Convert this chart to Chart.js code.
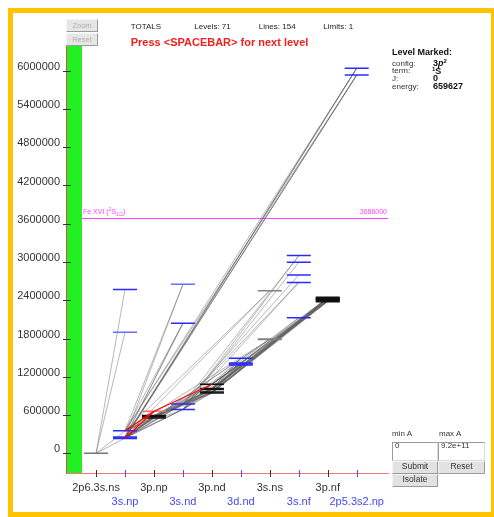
<!DOCTYPE html>
<html>
<head>
<meta charset="utf-8">
<script src="https://cdn.jsdelivr.net/npm/chart.js@4/dist/chart.umd.min.js"></script>
<style>
  html, body { margin: 0; padding: 0; background: #fff; width: 494px; height: 517px; overflow: hidden;
    font-family: "Liberation Sans", Arial, Helvetica, sans-serif; }
  #frame { position: absolute; left: 8px; top: 8px; width: 478px; height: 499px; border: 5px solid #ffc400; }
  #c { position: absolute; left: 0; top: 0; }
  .t { position: absolute; white-space: nowrap; line-height: 1; }
  .s8 { font-size: 8px; color: #333; }
  .b9 { font-size: 9px; font-weight: bold; color: #111; }
  .btn { position: absolute; box-sizing: border-box; height: 13px; text-align: center; font-size: 8.5px;
    line-height: 9px; color: #333; background: #e2e2e2; border: 1px solid; border-color: #f4f4f4 #9a9a9a #9a9a9a #f4f4f4; }
  .btn.off { color: #b0b0b0; background: #e6e6e6; font-size: 7.5px; line-height: 11px; }
  .box { position: absolute; box-sizing: border-box; height: 19px; background: #fff; border: 1px solid;
    border-color: #9a9a9a #dcdcdc #dcdcdc #9a9a9a; }
  sup.up { font-size: 6px; position: relative; top: -1px; vertical-align: top; }
</style>
</head>
<body>
<div id="frame"></div>
<canvas id="c" width="494" height="517"></canvas>

<div class="btn off" style="left:66px;top:19px;width:32px;">Zoom</div>
<div class="btn off" style="left:66px;top:33px;width:32px;">Reset</div>

<div class="t s8" style="left:130.7px;top:23.2px;color:#222;">TOTALS</div>
<div class="t s8" style="left:194.3px;top:23.2px;color:#222;">Levels: 71</div>
<div class="t s8" style="left:258.7px;top:23.2px;color:#222;">Lines: 154</div>
<div class="t s8" style="left:323.3px;top:23.2px;color:#222;">Limits: 1</div>
<div class="t" style="left:130.7px;top:37px;font-size:11px;font-weight:bold;color:#f02020;">Press &lt;SPACEBAR&gt; for next level</div>

<div class="t b9" style="left:392px;top:48.4px;">Level Marked:</div>
<div class="t s8" style="left:392px;top:59.7px;">config:</div>
<div class="t b9" style="left:433px;top:58.9px;">3<i>p</i><sup class="up">2</sup></div>
<div class="t s8" style="left:392px;top:67.3px;">term:</div>
<div class="t b9" style="left:432px;top:66.5px;"><sup class="up">1</sup>S</div>
<div class="t s8" style="left:392px;top:74.9px;">J:</div>
<div class="t b9" style="left:433px;top:74.1px;">0</div>
<div class="t s8" style="left:392px;top:82.5px;">energy:</div>
<div class="t b9" style="left:433px;top:81.7px;">659627</div>

<div class="t s8" style="left:392px;top:430.2px;">min A</div>
<div class="t s8" style="left:439px;top:430.2px;">max A</div>
<div class="box" style="left:392px;top:442px;width:46px;"></div>
<div class="box" style="left:438px;top:442px;width:47px;"></div>
<div class="t s8" style="left:395px;top:442.2px;">0</div>
<div class="t s8" style="left:441px;top:442.2px;">9.2e+11</div>
<div class="btn" style="left:392px;top:461px;width:46px;">Submit</div>
<div class="btn" style="left:438px;top:461px;width:47px;">Reset</div>
<div class="btn" style="left:392px;top:474px;width:46px;">Isolate</div>

<script>
// Configuration columns along the bottom axis
const columns = ['2p6.3s.ns', '3s.np', '3p.np', '3s.nd', '3p.nd', '3d.nd', '3s.ns', '3s.nf', '3p.nf', '2p5.3s2.np'];

// Energy axis ticks (cm-1)
const yTicks = [0, 600000, 1200000, 1800000, 2400000, 3000000, 3600000, 4200000, 4800000, 5400000, 6000000];

// Energy levels: column index and energy (cm-1)
const levelColumn = [0,
  1, 1, 1, 1, 1, 1,
  2, 2, 2, 2,
  3, 3, 3, 3,
  4, 4, 4, 4, 4,
  5, 5, 5, 5,
  6, 6,
  7, 7, 7, 7, 7,
  8, 8, 8, 8, 8,
  9, 9];
const levelEnergy = [0,
  233800, 239600, 253800, 351900, 1900000, 2570000,
  555000, 572000, 592000, 659627,
  688000, 774000, 2040000, 2650000,
  945000, 962000, 1000000, 1018000, 1082000,
  1384000, 1402000, 1418000, 1490000,
  1790000, 2550000,
  2126000, 2680000, 2795000, 2995000, 3100000,
  2383000, 2398000, 2413000, 2428000, 2442000,
  5932000, 6040000];

// Level currently marked
const markedLevel = 10;

// Series limit: Fe XVI (2S1/2)
const limitEnergy = 3686000;

// Transitions: lower level index -> upper level index
const lineFrom = [
  0, 0, 0, 0,
  1, 2, 2, 2, 3, 3, 3, 4, 4, 4,
  2, 4, 10,
  1, 2, 3, 2, 3, 4, 4, 1,
  2, 3, 4, 4, 3,
  2, 3, 4, 4, 3,
  1, 2, 3, 4, 1, 2, 3, 4,
  7, 7, 7, 7, 7, 8, 8, 8, 8, 9, 9, 9, 9,
  11, 11, 11, 11, 11, 12, 12, 12, 12,
  11, 12, 11, 12, 11, 12, 11, 12,
  15, 15, 16, 16, 17, 17, 17, 18, 18, 19, 19, 19,
  15, 15, 15, 15, 15, 16, 16, 16, 16, 16, 17, 17, 17, 17, 17,
  18, 18, 18, 18, 18, 19, 19, 19, 19, 19];
const lineTo = [
  2, 4, 5, 6,
  8, 7, 8, 9, 7, 8, 9, 7, 8, 9,
  10, 10, 19,
  11, 11, 11, 12, 12, 11, 12, 12,
  13, 13, 13, 14, 14,
  24, 24, 24, 25, 25,
  36, 36, 36, 36, 37, 37, 37, 37,
  15, 16, 17, 18, 19, 15, 16, 17, 19, 16, 17, 18, 19,
  15, 16, 17, 18, 19, 15, 17, 18, 19,
  26, 26, 27, 28, 29, 30, 30, 27,
  20, 21, 20, 22, 21, 22, 23, 20, 23, 21, 22, 23,
  31, 32, 33, 34, 35, 31, 32, 33, 34, 35, 31, 32, 33, 34, 35,
  31, 32, 33, 34, 35, 31, 32, 33, 34, 35];

// ---- styles ----
const FONT = '"Liberation Sans", Arial, Helvetica, sans-serif';
const BLUE = '#2b2bff';
const columnColor = ['#777777', BLUE, '#111111', BLUE, '#111111', BLUE, '#808080', BLUE, '#111111', BLUE];
const paleLevels = { 5: '#6c6cff', 14: '#6c6cff' };
const levelColor = levelEnergy.map((_, i) =>
  i === markedLevel ? '#ff7070' : (paleLevels[i] || columnColor[levelColumn[i]]));
const levelWidth = levelEnergy.map((_, i) =>
  levelColumn[i] === 8 ? 2.2 : (i === 24 ? 2 : 1.5));

const levelPoint = i => ({ x: levelColumn[i], y: levelEnergy[i] });

const datasets = [{
  label: 'levels',
  data: levelEnergy.map((_, i) => levelPoint(i)),
  pointStyle: 'line',
  pointRadius: 12,
  pointHoverRadius: 12,
  pointBorderColor: levelColor,
  pointBackgroundColor: levelColor,
  pointBorderWidth: levelWidth,
  order: 2
}];

lineFrom.forEach((a, k) => {
  const b = lineTo[k];
  const marked = a === markedLevel || b === markedLevel;
  datasets.push({
    label: 'line' + k,
    data: [levelPoint(a), levelPoint(b)],
    showLine: true,
    pointRadius: 0,
    borderColor: marked ? '#ff0000' : 'rgba(95,95,95,0.45)',
    borderWidth: marked ? 1.2 : 1,
    order: marked ? 1 : 3
  });
});

// Green strip, series limit and axis tick marks
const decorations = {
  id: 'decorations',
  beforeDatasetsDraw(chart) {
    const { ctx, chartArea: a, scales: { y } } = chart;
    ctx.save();
    ctx.fillStyle = '#22f022';
    ctx.fillRect(a.left + 0.5, a.top, 15, a.bottom - a.top - 0.5);

    const ly = Math.round(y.getPixelForValue(limitEnergy)) + 0.5;
    ctx.strokeStyle = '#ff44ff';
    ctx.lineWidth = 1;
    ctx.beginPath();
    ctx.moveTo(a.left + 15.5, ly);
    ctx.lineTo(a.right, ly);
    ctx.stroke();

    ctx.fillStyle = '#ff44ff';
    ctx.textBaseline = 'alphabetic';
    const base = ly - 4.5;
    let tx = a.left + 16.5;
    const part = (t, size, dy) => {
      ctx.font = size + 'px ' + FONT;
      ctx.fillText(t, tx, base + dy);
      tx += ctx.measureText(t).width;
    };
    part('Fe XVI (', 7, 0);
    part('2', 5, -3);
    part('S', 7, 0);
    part('1/2', 5, 2);
    part(')', 7, 0);
    ctx.textAlign = 'right';
    ctx.font = '7px ' + FONT;
    ctx.fillText(String(limitEnergy), a.right - 1, base);
    ctx.restore();
  },
  afterDraw(chart) {
    const { ctx, chartArea: a, scales: { x, y } } = chart;
    ctx.save();
    ctx.lineWidth = 1;
    ctx.strokeStyle = '#333';
    yTicks.forEach(v => {
      const py = Math.round(y.getPixelForValue(v)) + 0.5;
      ctx.beginPath();
      ctx.moveTo(a.left - 3.5, py);
      ctx.lineTo(a.left + 4.5, py);
      ctx.stroke();
    });
    columns.forEach((_, i) => {
      const px = Math.round(x.getPixelForValue(i)) + 0.5;
      ctx.strokeStyle = i % 2 ? '#4a4aff' : '#333';
      ctx.beginPath();
      ctx.moveTo(px, a.bottom - 3.5);
      ctx.lineTo(px, a.bottom + 3.5);
      ctx.stroke();
    });
    ctx.restore();
  }
};

new Chart(document.getElementById('c'), {
  type: 'scatter',
  data: { datasets },
  options: {
    responsive: false,
    animation: false,
    events: [],
    layout: { padding: { top: 46, right: 106, left: 0, bottom: 0 } },
    plugins: { legend: { display: false }, tooltip: { enabled: false } },
    scales: {
      x: {
        type: 'linear',
        min: -1.02,
        max: 10.08,
        afterFit: s => { s.height = 43.5; },
        afterBuildTicks: s => { s.ticks = columns.map((_, i) => ({ value: i })); },
        grid: { display: false, drawTicks: false },
        border: { display: true, color: '#f07878', width: 1 },
        ticks: {
          autoSkip: false,
          maxRotation: 0,
          minRotation: 0,
          padding: 8,
          font: { family: FONT, size: 11, lineHeight: 1.25 },
          color: c => (c.index % 2 ? '#4848f0' : '#333'),
          callback: v => {
            const i = Math.round(v);
            return i % 2 ? ['', columns[i]] : [columns[i], ''];
          }
        }
      },
      y: {
        type: 'linear',
        min: -316752,
        max: 6387348,
        afterFit: s => { s.width = 66.5; },
        afterBuildTicks: s => { s.ticks = yTicks.map(v => ({ value: v })); },
        grid: { display: false, drawTicks: false },
        border: { display: true, color: '#d05050', width: 1 },
        ticks: {
          padding: 6.5,
          labelOffset: -4,
          font: { family: FONT, size: 11 },
          color: '#333',
          callback: v => String(v)
        }
      }
    }
  },
  plugins: [decorations]
});
</script>
</body>
</html>
